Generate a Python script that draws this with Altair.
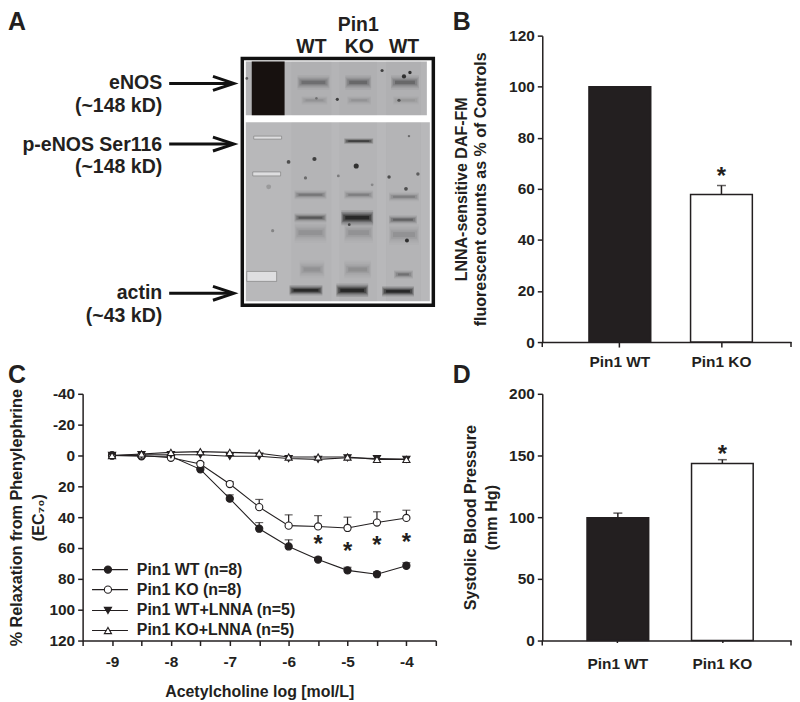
import altair as alt
import pandas as pd

INK = "#231f20"
FONT = "Liberation Sans"

# ---------- Panel B / D ----------
groups = ["Pin1 WT", "Pin1 KO"]
b_values = [100, 57.8]
b_errors = [0, 3.5]
d_values = [99.6, 143.6]
d_errors = [3.7, 3.0]
bar_fills = ["#231f20", "#ffffff"]

# ---------- Panel C ----------
doses = [-9, -8.5, -8, -7.5, -7, -6.5, -6, -5.5, -5, -4.5, -4]
wt = [0, 0.5, 0.5, 9, 28, 47.5, 59, 67.5, 74.5, 77, 71.5]
wt_err = [0, 0, 0, 1, 2.5, 4, 4.3, 1.5, 2, 1.5, 2]
ko = [0, 0, 1.5, 5.5, 18.5, 33.5, 45.5, 46, 47, 43.5, 40.5]
ko_err = [0, 0, 0, 1, 1.5, 5, 7, 7, 7, 7, 5]
wt_lnna = [0, -0.5, -0.5, -0.5, 0.5, 0.5, 2, 2.5, 1.5, 2, 2.5]
ko_lnna = [0, -1, -2, -2.5, -2, -1.5, 1, 1, 1, 2.5, 2.5]
series_names = ["Pin1 WT (n=8)", "Pin1 KO (n=8)", "Pin1 WT+LNNA (n=5)", "Pin1 KO+LNNA (n=5)"]
series_shapes = ["circle", "circle", "triangle-down", "triangle-up"]
series_fills = ["#231f20", "#ffffff", "#231f20", "#ffffff"]
star_doses = [-5.5, -5, -4.5, -4]
star_values = [54, 58.5, 55, 53]

# ---------- Panel A (blot read in lane position / migration units) ----------
blot_x = [246, 431]
strip_y = [61, 115]
gel_y = [122, 302]
band_x1 = [298, 346, 392, 302, 348, 394, 345, 295, 345, 390, 295, 342, 390, 295, 345, 390, 300, 345, 395, 290, 337, 383]
band_x2 = [330, 372, 420, 328, 372, 420, 374, 327, 374, 420, 327, 374, 418, 327, 374, 420, 325, 372, 414, 323, 369, 415]
band_y = [82, 82, 82, 100, 100, 100, 141, 195, 195, 197, 218, 218, 220, 233, 233, 235, 270, 270, 275, 291, 291, 292]
band_h = [5, 5, 5, 3, 3, 3, 2, 3, 3, 3, 3, 5, 3, 7, 7, 7, 6, 6, 3, 3.5, 4.5, 3.5]
band_i = [.4, .45, .45, .14, .14, .12, .95, .35, .3, .3, .6, 1.25, .5, .17, .17, .17, .17, .2, .4, 1.25, 1.25, 1.25]
speck_x = [289, 315, 357, 306, 339, 390, 419, 410, 383, 405, 411, 338, 400, 247, 317, 407, 408, 350, 273, 269, 373]
speck_y = [162, 159, 166, 178, 176, 177, 174, 136, 70, 76, 72, 99, 100, 78, 98, 189, 241, 225, 231, 187, 185]
speck_s = [14, 18, 26, 10, 8, 12, 12, 6, 10, 18, 12, 10, 10, 8, 6, 14, 16, 8, 10, 24, 8]
speck_o = [.7, .8, .9, .5, .4, .7, .6, .5, .8, .9, .9, .8, .6, .6, .4, .7, .9, .7, .35, .2, .3]
marker_x1 = [254, 253, 247]
marker_x2 = [282, 281, 277]
marker_y1 = [136, 172, 272]
marker_y2 = [139, 176, 282]
lane_x1 = [292, 340, 387]
lane_x2 = [332, 378, 422]
label_text = ["eNOS", "(~148 kD)", "p-eNOS Ser116", "(~148 kD)", "actin", "(~43 kD)"]
label_y = [83, 106, 145, 167, 294, 317]
arrow_y = [83, 144, 294]
head_text = ["Pin1", "WT", "KO", "WT"]
head_x = [359, 312, 360, 405]
head_y = [24, 46, 46, 46]

W1, W2, H1, H2 = 355, 250, 308, 248

xa = alt.Scale(domain=[82, 437], nice=False, zero=False)
ya = alt.Scale(domain=[35, 343], reverse=True, nice=False, zero=False)
X = lambda f: alt.X(f, type="quantitative", scale=xa, axis=None)
Y = lambda f: alt.Y(f, type="quantitative", scale=ya, axis=None)


def panel_letter(letter, px, py):
    return alt.Chart(pd.DataFrame({"t": [letter]})).mark_text(
        font=FONT, fontWeight="bold", fontSize=25, align="left", baseline="alphabetic", color=INK
    ).encode(text="t:N", x=alt.value(px), y=alt.value(py))


def rects(df, **mark):
    return alt.Chart(df).mark_rect(**mark).encode(X("x1"), x2="x2:Q", y=Y("y1"), y2="y2:Q")


frame = rects(pd.DataFrame({"x1": [242.5], "x2": [434.5], "y1": [58], "y2": [306]}),
              fill="#ffffff", stroke="#111111", strokeWidth=3.5)
strip_bg = rects(pd.DataFrame({"x1": [blot_x[0]], "x2": [428], "y1": [strip_y[0]], "y2": [strip_y[1]]}), fill="#b4b4b6")
gel_bg = rects(pd.DataFrame({"x1": [blot_x[0]], "x2": [blot_x[1]], "y1": [gel_y[0]], "y2": [gel_y[1]]}), fill="#b8b8ba")
lanes_df = pd.DataFrame([
    {"x1": a, "x2": b, "y1": y1, "y2": y2}
    for a, b in zip(lane_x1, lane_x2) for y1, y2 in [strip_y, gel_y]
])
lanes = rects(lanes_df, fill="#333333", opacity=0.03)
ladder = rects(pd.DataFrame({"x1": [252], "x2": [285], "y1": [strip_y[0]], "y2": [strip_y[1]]}), fill="#17110f")

rows = []
for x1, x2, y, h, i in zip(band_x1, band_x2, band_y, band_h, band_i):
    for grow, shrink, op in [(3.0, 0, .1), (2.3, 0, .14), (1.7, 1, .2), (1.2, 2, .3), (0.7, 4, .5)]:
        rows.append({"x1": x1 + shrink, "x2": x2 - shrink, "y1": y - h * grow / 2, "y2": y + h * grow / 2,
                     "o": min(i * op, 0.9)})
bands = alt.Chart(pd.DataFrame(rows)).mark_rect(fill="#141414").encode(
    X("x1"), x2="x2:Q", y=Y("y1"), y2="y2:Q", opacity=alt.Opacity("o:Q", scale=None)
)
markers = rects(pd.DataFrame({"x1": marker_x1, "x2": marker_x2, "y1": marker_y1, "y2": marker_y2}),
                fill="#dedee0", stroke="#777777", strokeWidth=0.6)
specks = alt.Chart(pd.DataFrame({"x": speck_x, "y": speck_y, "s": speck_s, "o": speck_o})).mark_circle(color="#222222").encode(
    X("x"), Y("y"), size=alt.Size("s:Q", scale=None), opacity=alt.Opacity("o:Q", scale=None)
)
labels_a = alt.Chart(pd.DataFrame({"t": label_text, "x": [162] * 6, "y": label_y})).mark_text(
    font=FONT, fontWeight="bold", fontSize=19.6, align="right", baseline="middle", color=INK
).encode(X("x"), Y("y"), text="t:N")
head_a = alt.Chart(pd.DataFrame({"t": head_text, "x": head_x, "y": head_y})).mark_text(
    font=FONT, fontWeight="bold", fontSize=19.5, align="center", baseline="middle", color=INK
).encode(X("x"), Y("y"), text="t:N")

arrow_rows = []
for k, y in enumerate(arrow_y):
    for seq, (ax, ay) in enumerate([(213, y - 7), (234, y), (213, y + 7)]):
        arrow_rows.append({"id": f"h{k}", "seq": seq, "x": ax, "y": ay})
    for seq, ax in enumerate([169, 232]):
        arrow_rows.append({"id": f"s{k}", "seq": seq, "x": ax, "y": y})
arrows = alt.Chart(pd.DataFrame(arrow_rows)).mark_line(color="#111111", strokeWidth=3).encode(
    X("x"), Y("y"), detail="id:N", order="seq:Q"
)

panel_a = alt.layer(frame, strip_bg, gel_bg, lanes, ladder, bands, markers, specks, labels_a, head_a, arrows,
                    panel_letter("A", -75, -6)).properties(width=W1, height=H1)


def bar_panel(values, errors, ydomain, ticks, title, xscale_args, letter, lx, ly, star, height,
              title_size, title_pad, line_h, label_pad, x_tick):
    df = pd.DataFrame({"g": groups, "v": values, "e": [v + e for v, e in zip(values, errors)], "f": bar_fills})
    xs = alt.Scale(domain=groups, **xscale_args)
    ys = alt.Scale(domain=ydomain, nice=False, zero=True)
    x = alt.X("g:N", scale=xs, title=None,
              axis=alt.Axis(labelAngle=0, labelPadding=label_pad, labelFontSize=15.5, tickSize=x_tick))
    y = alt.Y("v:Q", scale=ys, title=title,
              axis=alt.Axis(values=ticks, titleLineHeight=line_h, titleFontSize=title_size,
                            titlePadding=title_pad, labelFontSize=15.5))
    has_err = df[df.e > df.v]
    err_r = alt.Chart(has_err).mark_rule(color=INK, strokeWidth=1.5).encode(x=x, y=y, y2="e:Q")
    err_c = alt.Chart(has_err).mark_tick(color=INK, orient="horizontal", size=9, thickness=1.5).encode(
        x=x, y=alt.Y("e:Q", scale=ys))
    bars = alt.Chart(df).mark_bar(stroke=INK, strokeWidth=1.5).encode(
        x=x, y=y, fill=alt.Fill("f:N", scale=None))
    s = alt.Chart(pd.DataFrame({"g": [groups[1]], "v": [star], "t": ["*"]})).mark_text(
        font=FONT, fontWeight="bold", fontSize=24, baseline="middle", dy=6, color=INK
    ).encode(x=x, y=alt.Y("v:Q", scale=ys), text="t:N")
    ends = alt.Chart(pd.DataFrame({"k": [0, W2]})).mark_rule(color=INK, strokeWidth=1.5).encode(
        x=alt.X("k:Q", scale=None, axis=None), y=alt.value(height), y2=alt.value(height + 5))
    return alt.layer(err_r, err_c, bars, s, ends, panel_letter(letter, lx, ly)).properties(width=W2, height=height)


panel_b = bar_panel(b_values, b_errors, [0, 120], [0, 20, 40, 60, 80, 100, 120],
                    ["LNNA-sensitive DAF-FM", "fluorescent counts as % of Controls"],
                    dict(paddingInner=0.392, paddingOuter=0.42, align=0.547),
                    "B", -90, -6, 67, H1, 16.1, 20, 19, 8, 5)
panel_d = bar_panel(d_values, d_errors, [0, 200], [0, 50, 100, 150, 200],
                    ["Systolic Blood Pressure", "(mm Hg)"],
                    dict(paddingInner=0.41, paddingOuter=0.395, align=0.542),
                    "D", -90, -11, 155.6, H2, 16.2, 9, 21, 14, 2)

# ---------- Panel C ----------
cx = alt.Scale(domain=[-9.5, -3.5], nice=False, zero=False)
cy = alt.Scale(domain=[-40, 120], reverse=True, nice=False, zero=False)
all_series = [wt, ko, wt_lnna, ko_lnna]
errs = [wt_err, ko_err, [0] * 11, [0] * 11]
curve_rows = []
for name, vals, er in zip(series_names, all_series, errs):
    for d, v, e in zip(doses, vals, er):
        curve_rows.append({"s": name, "d": d, "v": v, "top": v - e, "e": e})
curves = pd.DataFrame(curve_rows)
x_title = "Acetylcholine log [mol/L]"
y_title = ["% Relaxation from Phenylephrine", "(EC₇₀)"]
x_axis = alt.Axis(values=[-9.5] + doses + [-3.5], labelExpr="datum.value % 1 === 0 ? '' + datum.value : ''",
                  labelPadding=9, titlePadding=14, labelFontSize=15.5, titleFontSize=16)
y_axis = alt.Axis(values=list(range(-40, 121, 20)), titleLineHeight=23, labelFontSize=15.5,
                  labelExpr="'' + datum.value", titleFontSize=16.3, titlePadding=2)
xc = alt.X("d:Q", scale=cx, title=x_title, axis=x_axis)
yc = alt.Y("v:Q", scale=cy, title=y_title, axis=y_axis)
c_err = curves[curves.e > 0]
c_lines = alt.Chart(curves).mark_line(color=INK, strokeWidth=1.1).encode(x=xc, y=yc, detail="s:N")
c_rule = alt.Chart(c_err).mark_rule(color=INK, strokeWidth=1.2).encode(x=xc, y=yc, y2="top:Q")
c_cap = alt.Chart(c_err).mark_tick(color=INK, orient="horizontal", size=8, thickness=1.2).encode(
    x=xc, y=alt.Y("top:Q", scale=cy, title=y_title, axis=y_axis))
shape_scale = alt.Scale(domain=series_names, range=series_shapes)
fill_scale = alt.Scale(domain=series_names, range=series_fills)
c_pts = alt.Chart(curves).mark_point(filled=True, size=52, stroke=INK, strokeWidth=1.1, opacity=1).encode(
    x=xc, y=yc,
    shape=alt.Shape("s:N", scale=shape_scale, legend=None),
    fill=alt.Fill("s:N", scale=fill_scale, legend=None),
)
c_star = alt.Chart(pd.DataFrame({"d": star_doses, "v": star_values, "t": ["*"] * 4})).mark_text(
    font=FONT, fontWeight="bold", fontSize=24, baseline="middle", dy=6, color=INK
).encode(x=xc, y=yc, text="t:N")

# key inside the plot, drawn through the same shape / fill scales
key_y = [74, 87, 100.5, 113.5]
key = pd.DataFrame({"s": series_names, "v": key_y, "d": [-9.07] * 4, "a": [-9.34] * 4, "b": [-8.73] * 4, "l": [-8.58] * 4})
kx = lambda f: alt.X(f, type="quantitative", scale=cx, title=x_title, axis=x_axis)
k_line = alt.Chart(key).mark_rule(color=INK, strokeWidth=1.1).encode(x=kx("a"), x2="b:Q", y=yc)
k_pts = alt.Chart(key).mark_point(filled=True, size=52, stroke=INK, strokeWidth=1.1, opacity=1).encode(
    x=kx("d"), y=yc,
    shape=alt.Shape("s:N", scale=shape_scale, legend=None),
    fill=alt.Fill("s:N", scale=fill_scale, legend=None))
k_txt = alt.Chart(key).mark_text(font=FONT, fontWeight="bold", fontSize=16, align="left", baseline="middle", color=INK).encode(
    x=kx("l"), y=yc, text="s:N")

panel_c = alt.layer(c_lines, c_rule, c_cap, c_pts, c_star, k_line, k_pts, k_txt,
                    panel_letter("C", -75, -11)).properties(width=W1, height=H2)

chart = alt.concat(panel_a, panel_b, panel_c, panel_d, columns=2, spacing={"row": 52, "column": 107}, bounds="flush")
chart = chart.properties(padding=0, background="#ffffff").configure_view(stroke=None).configure_axis(
    grid=False, domainColor=INK, domainWidth=1.5, tickColor=INK, tickWidth=1.5, tickSize=5,
    labelFont=FONT, labelFontWeight="bold", labelFontSize=14.5, labelColor=INK,
    titleFont=FONT, titleFontWeight="bold", titleFontSize=14.5, titleColor=INK, labelPadding=3,
)
chart.save("out.html", embed_options={"renderer": "svg", "actions": False})
